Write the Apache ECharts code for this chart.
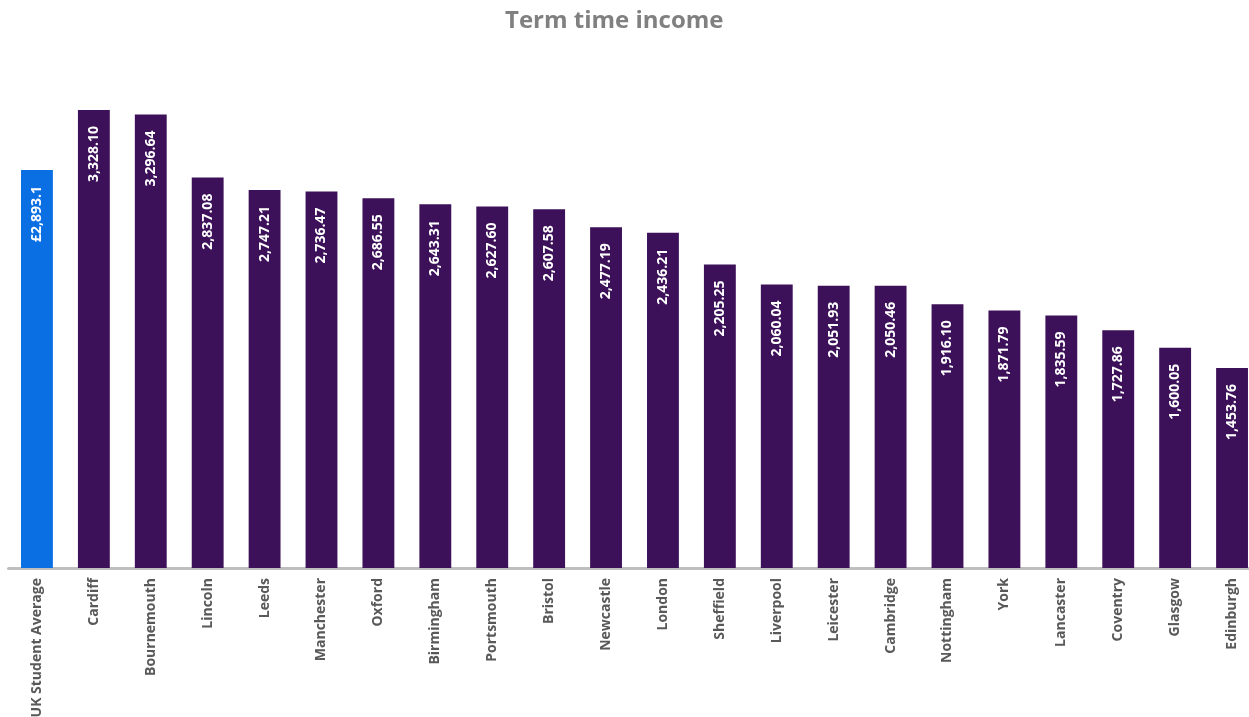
<!DOCTYPE html>
<html>
<head>
<meta charset="utf-8">
<script src="https://cdn.jsdelivr.net/npm/echarts@6/dist/echarts.min.js"></script>
<style>
  html, body { margin: 0; padding: 0; background: #fff; }
  #chart { width: 1249px; height: 717px; }
</style>
</head>
<body>
<div id="chart"></div>
<script>
const cities = ['UK Student Average', 'Cardiff', 'Bournemouth', 'Lincoln', 'Leeds', 'Manchester', 'Oxford',
  'Birmingham', 'Portsmouth', 'Bristol', 'Newcastle', 'London', 'Sheffield', 'Liverpool', 'Leicester',
  'Cambridge', 'Nottingham', 'York', 'Lancaster', 'Coventry', 'Glasgow', 'Edinburgh'];
const income = [2893.1, 3328.10, 3296.64, 2837.08, 2747.21, 2736.47, 2686.55, 2643.31, 2627.60, 2607.58,
  2477.19, 2436.21, 2205.25, 2060.04, 2051.93, 2050.46, 1916.10, 1871.79, 1835.59, 1727.86, 1600.05, 1453.76];

const purple = '#3D1159';
const blue = '#0A6FE3';

function fmt(v, dp) {
  return v.toLocaleString('en-GB', { minimumFractionDigits: dp, maximumFractionDigits: dp });
}

const chart = echarts.init(document.getElementById('chart'));
chart.setOption({
  animation: false,
  title: {
    text: 'Term time income',
    left: 500,
    top: 4,
    textStyle: { fontFamily: 'Open Sans', fontWeight: 'bold', fontSize: 24, color: '#808080' }
  },
  // the plot runs a little past the right edge of the picture
  grid: { left: 8.5, width: 1252, top: 86.4, bottom: 149, outerBoundsMode: 'none', containLabel: false },
  xAxis: {
    type: 'category',
    data: cities,
    axisLine: { lineStyle: { color: '#BFBFBF', width: 3 } },
    axisTick: { show: false },
    axisLabel: {
      interval: 0,
      rotate: 90,
      margin: 10,
      fontFamily: 'Open Sans',
      fontWeight: 'bold',
      fontSize: 14,
      color: '#595959'
    }
  },
  yAxis: { type: 'value', min: 0, max: 3500, show: false, splitLine: { show: false } },
  series: [{
    type: 'bar',
    barCategoryGap: '44%',
    data: income.map((v, i) => ({
      value: v,
      itemStyle: { color: i === 0 ? blue : purple }
    })),
    label: {
      show: true,
      position: 'insideTop',
      distance: 16,
      rotate: 90,
      align: 'right',
      verticalAlign: 'middle',
      fontFamily: 'Open Sans',
      fontWeight: 'bold',
      fontSize: 14,
      color: '#fff',
      formatter: p => p.dataIndex === 0 ? '£' + fmt(p.value, 1) : fmt(p.value, 2)
    }
  }]
});
</script>
</body>
</html>
